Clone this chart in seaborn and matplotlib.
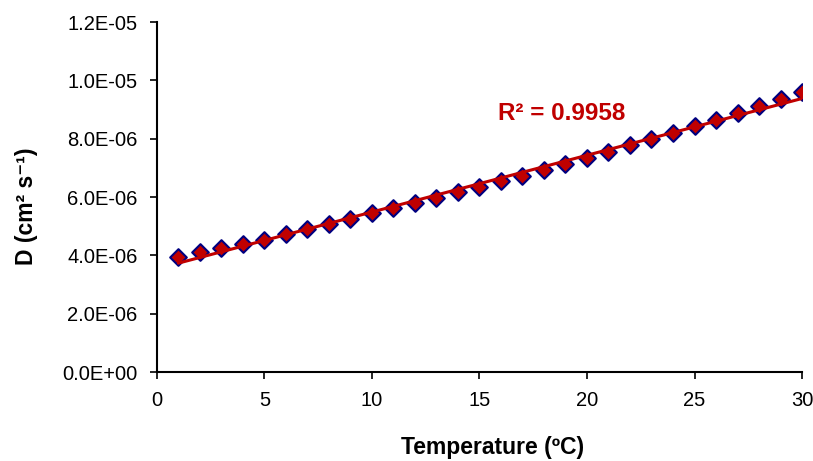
import numpy as np
import pandas as pd
import matplotlib
matplotlib.use("Agg")
import matplotlib.pyplot as plt
import seaborn as sns

temperature = [1, 2, 3, 4, 5, 6, 7, 8, 9, 10, 11, 12, 13, 14, 15,
               16, 17, 18, 19, 20, 21, 22, 23, 24, 25, 26, 27, 28, 29, 30]
diffusion = [3.94, 4.11, 4.25, 4.39, 4.53, 4.73, 4.90, 5.07, 5.25, 5.45,
             5.62, 5.79, 5.97, 6.17, 6.34, 6.55, 6.72, 6.93, 7.13, 7.34,
             7.54, 7.78, 7.99, 8.19, 8.43, 8.64, 8.88, 9.12, 9.36, 9.62]
diffusion = [v * 1e-6 for v in diffusion]
r2_label = "R² = 0.9958"
y_ticks = [0, 2e-6, 4e-6, 6e-6, 8e-6, 1e-5, 1.2e-5]
y_tick_labels = ["0.0E+00", "2.0E-06", "4.0E-06", "6.0E-06", "8.0E-06", "1.0E-05", "1.2E-05"]
x_ticks = [0, 5, 10, 15, 20, 25, 30]

sns.set_style("ticks")
plt.rcParams["font.family"] = ["Liberation Sans", "DejaVu Sans"]

df = pd.DataFrame({"T": temperature, "D": diffusion})
slope, intercept = np.polyfit(df["T"], df["D"], 1)
fit = pd.DataFrame({"T": [temperature[0], temperature[-1]]})
fit["D"] = slope * fit["T"] + intercept

fig = plt.figure(figsize=(8.13, 4.61), dpi=100)
ax = fig.add_axes([0.193, 0.193, 0.7935, 0.759])

sns.scatterplot(data=df, x="T", y="D", marker="D", s=72, color="#C00000",
                edgecolor="#000080", linewidth=1.5, ax=ax, zorder=2)
sns.lineplot(data=fit, x="T", y="D", color="#C00000", linewidth=2.2, ax=ax, zorder=3)

ax.set_xlim(0, 30)
ax.set_ylim(0, 1.2e-5)
ax.set_xticks(x_ticks)
ax.set_yticks(y_ticks)
ax.set_yticklabels(y_tick_labels)
ax.tick_params(axis="both", labelsize=14.5, length=5, width=1.2, color="black",
               labelcolor="black", direction="out")
ax.tick_params(axis="y", pad=9)
ax.tick_params(axis="x", pad=9)
for s in ["left", "bottom"]:
    ax.spines[s].set_linewidth(1.5)
    ax.spines[s].set_color("black")
sns.despine(ax=ax)

ax.set_xlabel("Temperature (ºC)", fontsize=16.5, fontweight="bold", color="black")
ax.set_ylabel("D (cm² s⁻¹)", fontsize=16.5, fontweight="bold", color="black")
ax.xaxis.set_label_coords(0.521, -0.183)
ax.yaxis.set_label_coords(-0.185, 0.474)

ax.text(15.85, 8.88e-6, r2_label, color="#C00000", fontsize=17.5, fontweight="bold",
        va="center", ha="left")

fig.savefig("out.png", dpi=100)
